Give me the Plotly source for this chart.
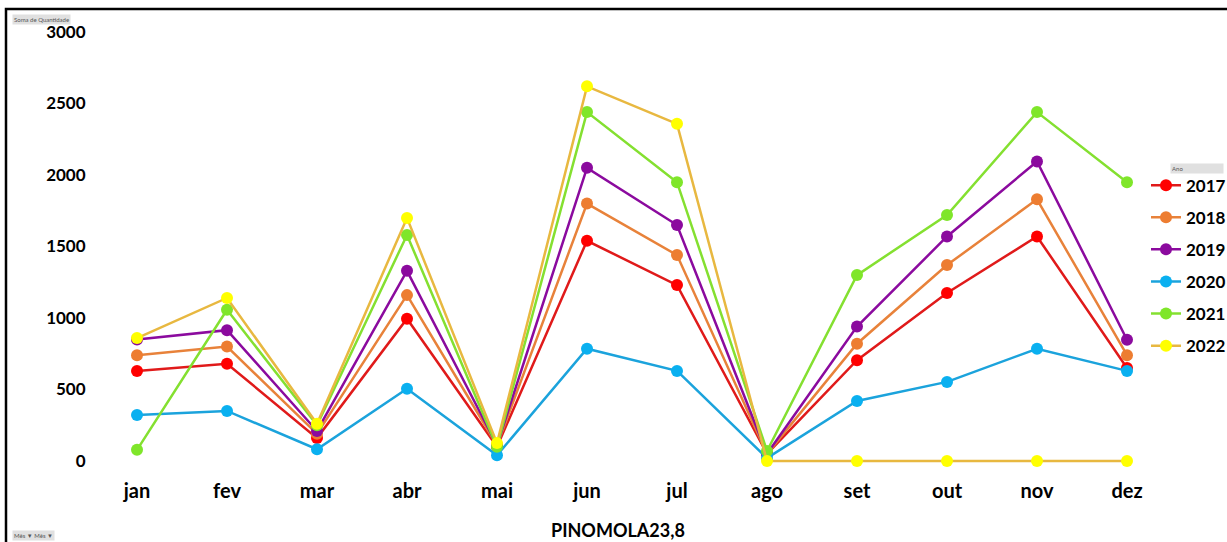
import plotly.graph_objects as go

months = ["jan", "fev", "mar", "abr", "mai", "jun", "jul", "ago", "set", "out", "nov", "dez"]
years = ["2017", "2018", "2019", "2020", "2021", "2022"]

v2017 = [630, 680, 160, 995, 100, 1540, 1230, 50, 705, 1175, 1570, 650]
v2018 = [740, 800, 190, 1160, 110, 1800, 1440, 50, 820, 1370, 1830, 740]
v2019 = [850, 915, 210, 1330, 110, 2050, 1650, 50, 940, 1570, 2095, 848]
v2020 = [322, 350, 82, 505, 40, 785, 630, 20, 420, 553, 785, 630]
v2021 = [78, 1058, 250, 1580, 100, 2440, 1950, 70, 1300, 1720, 2440, 1950]
v2022 = [860, 1140, 260, 1700, 125, 2620, 2358, 0, 0, 0, 0, 0]

series = [v2017, v2018, v2019, v2020, v2021, v2022]
line_colors = ["#E01A1A", "#E8823A", "#8B0A9E", "#1BA3DC", "#84E030", "#E8B840"]
marker_colors = ["#FF0000", "#ED7D31", "#8B0A9E", "#0AB0F0", "#7FE62A", "#FFFF00"]

FONT = "Lato"

fig = go.Figure()
for name, vals, lc, mc in zip(years, series, line_colors, marker_colors):
    fig.add_trace(go.Scatter(
        x=months, y=vals, name=name, mode="lines+markers", legendgroup=name,
        line=dict(color=lc, width=2.5),
        marker=dict(color=mc, size=12, line=dict(width=0)),
    ))

fig.update_layout(
    width=1227, height=542, autosize=False,
    margin=dict(l=92, r=55, t=20, b=72, autoexpand=False),
    paper_bgcolor="white", plot_bgcolor="white",
    showlegend=True,
    legend=dict(
        x=(1146 - 92) / 1080, y=0.672, xanchor="left", yanchor="top",
        font=dict(family=FONT, size=17, color="black", weight="bold"),
        tracegroupgap=7, itemwidth=30, bgcolor="rgba(0,0,0,0)",
    ),
    xaxis=dict(
        showgrid=False, zeroline=False, showline=False,
        tickfont=dict(family=FONT, size=20, color="black", weight="bold"),
        ticks="outside", ticklen=3, tickcolor="rgba(0,0,0,0)",
        range=[-0.5, 11.5],
    ),
    yaxis=dict(
        range=[-63, 3084], showgrid=False, zeroline=False, showline=False,
        tickvals=[0, 500, 1000, 1500, 2000, 2500, 3000],
        tickfont=dict(family=FONT, size=17, color="black", weight="bold"),
        ticks="outside", ticklen=2, tickcolor="rgba(0,0,0,0)",
    ),
    annotations=[
        dict(text="PINOMOLA23,8", x=0.487, y=-0.133, xref="paper", yref="paper",
             showarrow=False, font=dict(family=FONT, size=18, color="black", weight="bold"),
             xanchor="center", yanchor="middle"),
        dict(text="Soma de Quantidade", x=(12 - 92) / 1080, y=(470 - 19) / 450, xref="paper", yref="paper",
             showarrow=False, font=dict(family=FONT, size=6, color="#555"),
             bgcolor="#E0E0E0", xanchor="left", yanchor="middle"),
        dict(text="Ano", x=(1170 - 92) / 1080, y=(470 - 168) / 450, xref="paper", yref="paper",
             showarrow=False, font=dict(family=FONT, size=6, color="#555"),
             bgcolor="#E0E0E0", xanchor="left", yanchor="middle", width=50, align="left"),
        dict(text="Mês ▼ Mês ▼", x=(12 - 92) / 1080, y=(470 - 535) / 450, xref="paper", yref="paper",
             showarrow=False, font=dict(family=FONT, size=6, color="#555"),
             bgcolor="#E0E0E0", xanchor="left", yanchor="middle"),
    ],
    shapes=[
        dict(type="rect", xref="paper", yref="paper",
             x0=(6 - 92) / 1080, x1=(1240 - 92) / 1080,
             y0=(470 - 550) / 450, y1=(470 - 9) / 450,
             line=dict(color="black", width=2.5), fillcolor="rgba(0,0,0,0)", layer="below"),
    ],
)

fig.write_html("out.html", config={"responsive": False, "displayModeBar": False})

with open("out.html", "r", encoding="utf-8") as f:
    html = f.read()
html = html.replace("<head>", "<head><style>html,body{margin:0;padding:0;overflow:hidden;}</style>", 1)
with open("out.html", "w", encoding="utf-8") as f:
    f.write(html)
